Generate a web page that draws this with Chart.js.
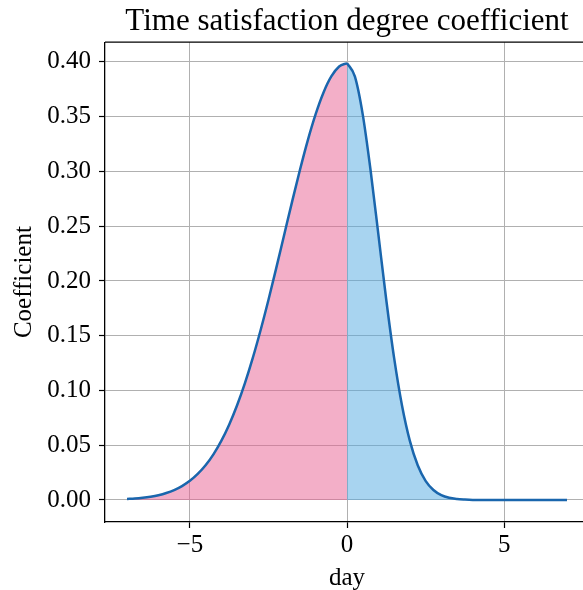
<!DOCTYPE html>
<html>
<head>
<meta charset="utf-8">
<script src="https://cdn.jsdelivr.net/npm/chart.js@4"></script>
<style>
  html, body { margin: 0; padding: 0; background: #fff; overflow: hidden; }
</style>
</head>
<body>
<canvas id="grafico" width="589" height="590"></canvas>
<script>
// days before / after the deadline
const diasAntes = [-7, -6.75, -6.5, -6.25, -6, -5.75, -5.5, -5.25, -5, -4.75, -4.5, -4.25, -4,
  -3.75, -3.5, -3.25, -3, -2.75, -2.5, -2.25, -2, -1.75, -1.5, -1.25, -1, -0.75, -0.5, -0.25, 0];
const coefAntes = [0.0009, 0.0013, 0.0020, 0.0030, 0.0044, 0.0064, 0.0091, 0.0127, 0.0175, 0.0238,
  0.0317, 0.0417, 0.0540, 0.0688, 0.0863, 0.1065, 0.1295, 0.1550, 0.1826, 0.2119, 0.2420, 0.2720,
  0.3011, 0.3282, 0.3521, 0.3719, 0.3867, 0.3958, 0.3989];

const diasDepois = [0, 0.25, 0.5, 0.75, 1, 1.25, 1.5, 1.75, 2, 2.25, 2.5, 2.75, 3, 3.25, 3.5,
  3.75, 4, 4.5, 5, 5.5, 6, 6.5, 7];
const coefDepois = [0.3989, 0.3867, 0.3521, 0.3011, 0.2420, 0.1826, 0.1295, 0.0863, 0.0540, 0.0317,
  0.0175, 0.0091, 0.0044, 0.0020, 0.0009, 0.0004, 0.0001, 0, 0, 0, 0, 0, 0];

const xTicks = [-5, 0, 5];
const yTicks = [0, 0.05, 0.10, 0.15, 0.20, 0.25, 0.30, 0.35, 0.40];

const pontos = (xs, ys) => xs.map((x, i) => ({ x: x, y: ys[i] }));

Chart.defaults.font.family = '"Liberation Serif", "Times New Roman", serif';
Chart.defaults.color = '#000';

const bordaTopo = {
  id: 'bordaTopo',
  afterDraw(chart) {
    const { ctx, chartArea } = chart;
    ctx.save();
    ctx.strokeStyle = '#000';
    ctx.lineWidth = 1.3;
    ctx.beginPath();
    ctx.moveTo(chartArea.left, chartArea.top);
    ctx.lineTo(chartArea.right, chartArea.top);
    ctx.stroke();
    ctx.restore();
  }
};

new Chart(document.getElementById('grafico'), {
  type: 'line',
  data: {
    datasets: [{
      data: pontos(diasAntes, coefAntes),
      borderColor: '#1a66ad',
      borderWidth: 2.5,
      backgroundColor: 'rgba(231, 95, 145, 0.5)',
      fill: 'origin',
      pointRadius: 0,
      cubicInterpolationMode: 'monotone'
    }, {
      data: pontos(diasDepois, coefDepois),
      borderColor: '#1a66ad',
      borderWidth: 2.5,
      backgroundColor: 'rgba(81, 169, 225, 0.5)',
      fill: 'origin',
      pointRadius: 0,
      cubicInterpolationMode: 'monotone'
    }]
  },
  options: {
    responsive: false,
    animation: false,
    layout: { padding: 0 },
    plugins: {
      legend: { display: false },
      tooltip: { enabled: false },
      filler: { drawTime: 'beforeDatasetsDraw' },
      title: {
        display: true,
        fullSize: false,
        text: 'Time satisfaction degree coefficient',
        font: { size: 31, weight: 'normal' },
        padding: { top: 3, bottom: 2 }
      }
    },
    scales: {
      x: {
        type: 'linear',
        min: -7.7,
        max: 7.7,
        afterBuildTicks: axis => { axis.ticks = xTicks.map(v => ({ value: v })); },
        afterFit: axis => { axis.height = 68; },
        grid: { color: '#b0b0b0', lineWidth: 1, tickColor: '#000', tickLength: 6, tickWidth: 1.2 },
        border: { display: true, color: '#000', width: 1.3 },
        ticks: {
          font: { size: 25 },
          padding: 2,
          maxRotation: 0,
          callback: v => v < 0 ? '\u2212' + Math.abs(v) : String(v)
        },
        title: { display: true, text: 'day', font: { size: 25 }, padding: { top: 0, bottom: -3 } }
      },
      y: {
        min: -0.0201,
        max: 0.418,
        afterBuildTicks: axis => { axis.ticks = yTicks.map(v => ({ value: v })); },
        afterFit: axis => { axis.width = 105; },
        grid: { color: '#b0b0b0', lineWidth: 1, tickColor: '#000', tickLength: 6, tickWidth: 1.2 },
        border: { display: true, color: '#000', width: 1.3 },
        ticks: {
          font: { size: 25 },
          padding: 8,
          callback: v => v.toFixed(2)
        },
        title: { display: true, text: 'Coefficient', font: { size: 25 }, padding: { top: 9, bottom: 4 } }
      }
    }
  },
  plugins: [bordaTopo]
});
</script>
</body>
</html>
